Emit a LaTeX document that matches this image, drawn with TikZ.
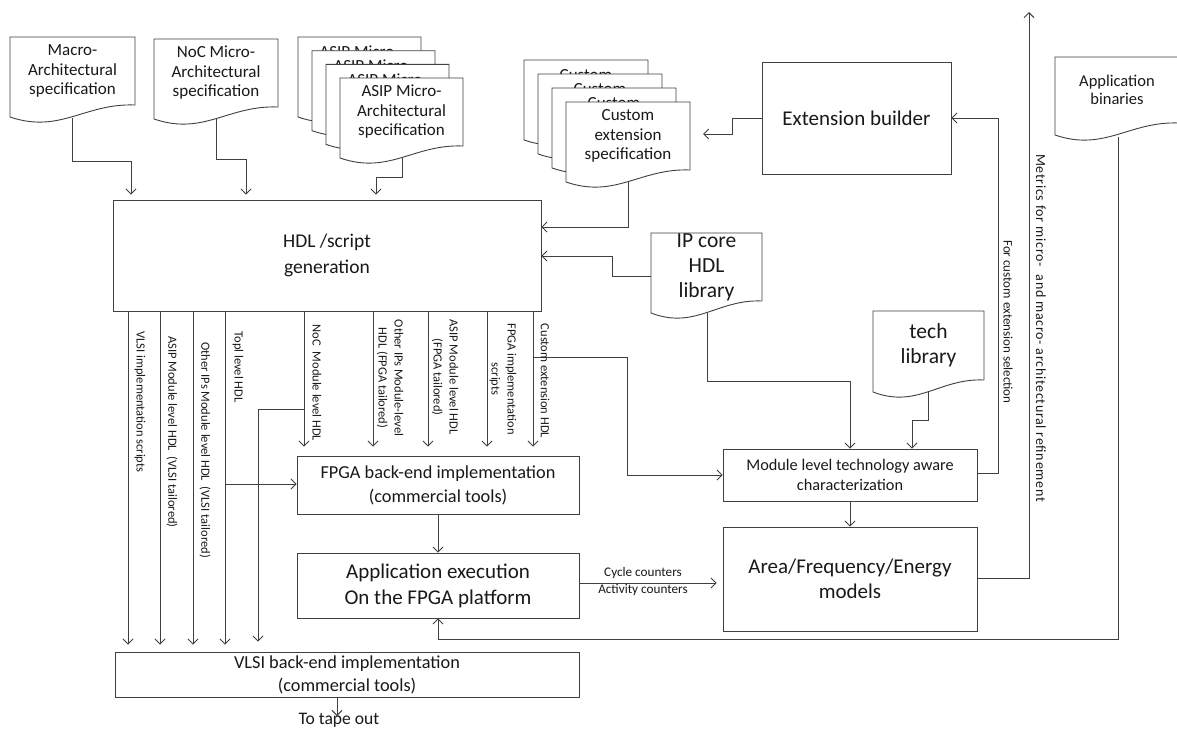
\documentclass[tikz,border=0pt]{standalone}
\usepackage{fontspec}
\setmainfont{Carlito}
\usetikzlibrary{arrows.meta}
\newcommand\fs[2]{\fontsize{#1}{#2}\selectfont}
\tikzset{
  ln/.style={draw=black!75, line width=0.9pt},
  arr/.style={ln, -{Straight Barb[length=5pt,width=10pt,line width=0.9pt]}},
  box/.style={ln, rectangle, inner sep=0pt, align=center, text=black!90},
  docpath/.style={ln, fill=white, line join=miter},
  doctext/.style={inner sep=0pt, align=center, text=black!90, font=\fs{17}{19.5}},
  vlab/.style={rotate=-90, inner sep=0pt, align=center, text=black!90, font=\fs{12.5}{16}},
  smlab/.style={inner sep=0pt, align=center, text=black!90, font=\fs{13.2}{17}},
}
% #1 options for text, #2 name, #3 L, #4 T, #5 W, #6 H, #7 text
\newcommand\docsheet[7][]{%
  \draw[docpath] (#3,#4) -- (#3+#5,#4) -- (#3+#5,#4+#6-12)
     .. controls (#3+0.6*#5,#4+#6-14) and (#3+0.4*#5,#4+#6+17) .. (#3,#4+#6) -- cycle;
  \node[doctext, minimum width=#5pt, minimum height=#6pt-12pt, #1] (#2) at (#3+0.5*#5,#4+0.5*#6-6) {#7};
}
% back sheet of a stack: only the first text line can show
\newcommand\backsheet[7][]{%
  \draw[docpath] (#3,#4) -- (#3+#5,#4) -- (#3+#5,#4+#6-12)
     .. controls (#3+0.6*#5,#4+#6-14) and (#3+0.4*#5,#4+#6+17) .. (#3,#4+#6) -- cycle;
  \node[doctext, #1] (#2) at (#3+0.5*#5,#4+15) {#7};
}
\begin{document}
\begin{tikzpicture}[x=1pt, y=-1pt]
\useasboundingbox[fill=white] (0,0) rectangle (1177,728);

% ---------- documents ----------
\docsheet{macro}{10}{37}{125}{80}{Macro-\\Architectural\\specification}
\docsheet{noc}{154}{39}{124}{80}{NoC Micro-\\Architectural\\specification}
\foreach \k in {0,1,2}{
  \backsheet{asip\k}{298+14*\k}{37+13.7*\k}{123}{80}{ASIP Micro-}
}
\docsheet{asip3}{340}{78}{123}{80}{ASIP Micro-\\Architectural\\specification}
\foreach \k in {0,1,2}{
  \backsheet{cust\k}{524+14*\k}{60+14*\k}{124}{80}{Custom}
}
\docsheet{cust3}{566}{102}{124}{80}{Custom\\extension\\specification}
\docsheet[font=\fs{21.5}{25}]{ipcore}{651}{233}{111}{80}{IP core\\HDL\\library}
\docsheet[font=\fs{21.5}{25}]{tech}{873}{311}{111}{81}{tech\\library}
\docsheet[font=\fs{16.5}{18}]{appbin}{1055}{57}{124}{78}{Application\\binaries}

% ---------- boxes ----------
\node[box, minimum width=428pt, minimum height=111pt, font=\fs{19.5}{26}] (hdl) at (327,255.5) {HDL /script\\generation};
\node[box, minimum width=189pt, minimum height=112pt, font=\fs{21}{25}] (ext) at (856.5,118) {Extension builder};
\node[box, minimum width=254pt, minimum height=52pt, font=\fs{16.3}{20}] (module) at (850,475) {Module level technology aware\\characterization};
\node[box, minimum width=254pt, minimum height=104pt, font=\fs{21}{25}] (area) at (850,579) {Area/Frequency/Energy\\models};
\node[box, minimum width=282pt, minimum height=58pt, font=\fs{18.3}{24}] (fpga) at (438,485) {FPGA back-end implementation\\(commercial tools)};
\node[box, minimum width=282pt, minimum height=65pt, font=\fs{21}{26}] (appexec) at (438,585.5) {Application execution\\On the FPGA platform};
\node[box, minimum width=464pt, minimum height=45pt, font=\fs{18.3}{23}] (vlsi) at (347,674.5) {VLSI back-end implementation\\(commercial tools)};

% ---------- connector end points on document waves ----------
\coordinate (macroout) at (72,118);
\coordinate (nocout) at (216,119);
\coordinate (asipout) at (402,158);
\coordinate (custout) at (628,182);
\coordinate (ipout) at (707,313);
\coordinate (techout) at (928,392);
\coordinate (appout) at (1118,137);
\coordinate (metricsend) at (1029,12);
\coordinate (tapeend) at (337,716);
\coordinate (custtip) at (703,134);

% ---------- connectors ----------
\draw[arr, shorten >=5pt] (macroout) |- (131,161) -- (131,161 |- hdl.north);
\draw[arr, shorten >=5pt] (nocout) |- (246,159) -- (246,159 |- hdl.north);
\draw[arr, shorten >=5pt] (asipout) |- (376,177) -- (376,177 |- hdl.north);
\draw[arr] (custout) |- (hdl.east |- 0,227);
\draw[arr] (ext.west) -- (732,118) |- (custtip);
\draw[arr] (ipcore.west |- 0,276) -- (612,276) |- (hdl.east |- 0,256);
\draw[arr] (ipout) -- (707,381) -| (module.north);
\draw[arr] (techout) -- (928,420) -| (module.north -| 912,0);
\draw[arr] (module.east |- 0,473) -- (998,473) |- (ext.east);
\draw[arr] (module.south) -- (area.north);
\draw[arr] (area.east |- 0,578) -- (1029,578) -- (metricsend);
\draw[arr] (appout) |- (438,639) -- (appexec.south);
\draw[arr] (fpga.south) -- (appexec.north);
\draw[arr, shorten >=6pt] (appexec.east |- 0,583) -- (area.west |- 0,583);
\draw[arr] (vlsi.south -| 337,0) -- (tapeend);

% HDL outputs
\foreach \x in {128,160,193,225}{
  \draw[arr, shorten >=7pt] (hdl.south -| \x,0) -- (vlsi.north -| \x,0);
}
\draw[arr] (225,484) -- (fpga.west |- 0,484);
\foreach \x in {304,373,428,487,533}{
  \draw[arr, shorten >=9pt] (hdl.south -| \x,0) -- (fpga.north -| \x,0);
}
\draw[arr, shorten >=10pt] (304,409) -| (vlsi.north -| 258,0);
\draw[arr] (533,357) -- (627,357) |- (module.west);

% ---------- labels ----------
\node[vlab] (l1) at (140,402) {VLSI implementation scripts};
\node[vlab] (l2) at (172,432) {ASIP Module level HDL \ (VLSI tailored)};
\node[vlab] (l3) at (205,450) {Other IPs Module level HDL \ (VLSI tailored)};
\node[vlab] (l4) at (238,367) {Topl level HDL};
\node[vlab] (l5) at (317,383) {NoC \ Module level HDL};
\node[vlab] (l6) at (390,378) {Other IPs Module-level\\HDL (FPGA tailored)};
\node[vlab] (l7) at (445,377) {ASIP Module level HDL\\(FPGA tailored)};
\node[vlab] (l8) at (503,379) {FPGA implementation\\scripts};
\node[vlab] (l9) at (545,381) {Custom extension HDL};
\node[vlab, font=\fs{13}{16}] (l10) at (1008,322) {For custom extension selection};
\node[vlab, font=\fs{14}{16}\addfontfeature{LetterSpace=5}] (l11) at (1041,328) {Metrics for micro- \ and macro- architectural refinement};
\node[smlab] (l12) at (643,581) {Cycle counters\\Activity counters};
\node[inner sep=0pt, font=\fs{17.6}{20}, text=black!90] (tape) at (339,720) {To tape out};
\end{tikzpicture}
\end{document}
